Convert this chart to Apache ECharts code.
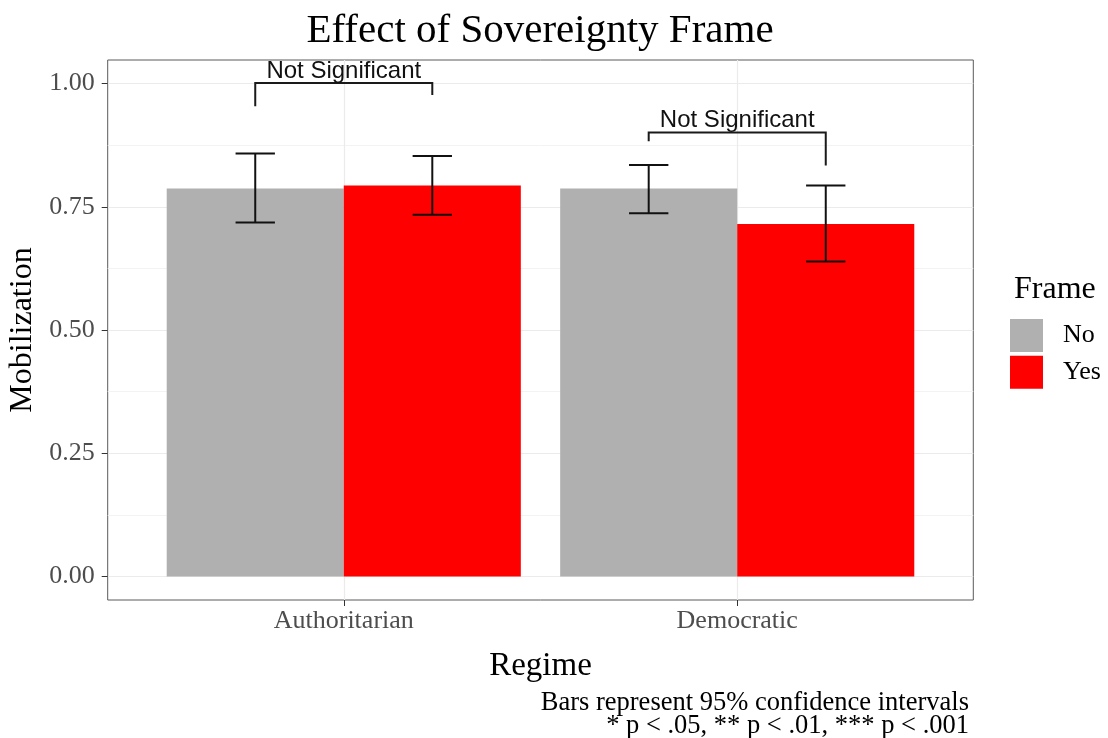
<!DOCTYPE html>
<html>
<head>
<meta charset="utf-8">
<title>Effect of Sovereignty Frame</title>
<script src="https://cdn.jsdelivr.net/npm/echarts@6/dist/echarts.min.js"></script>
<style>
  html, body { margin: 0; padding: 0; background: #ffffff; }
  #chart { width: 1108px; height: 738px; }
</style>
</head>
<body>
<div id="chart"></div>
<script>
// Regimes on the x axis, frame levels as dodged bars
const regimes = ['Authoritarian', 'Democratic'];
const frames = ['No', 'Yes'];

// Mean mobilization per regime, one array per frame level
const meanNo = [0.787, 0.787];
const meanYes = [0.793, 0.715];

// 95% confidence interval bounds
const lowerNo = [0.718, 0.737];
const upperNo = [0.858, 0.835];
const lowerYes = [0.734, 0.639];
const upperYes = [0.853, 0.793];

// Significance brackets: height of the bar, and the two dropped ends
const bracketTop = [1.001, 0.901];
const bracketLeftEnd = [0.954, 0.883];
const bracketRightEnd = [0.977, 0.834];
const bracketLabels = ['Not Significant', 'Not Significant'];

// Y tick values
const yTicks = [0, 0.25, 0.5, 0.75, 1.0];

// Caption lines under the plot
const captionLines = [
  'Bars represent 95% confidence intervals',
  '* p < .05, ** p < .01, *** p < .001'
];

const SERIF = '"Liberation Serif", "Times New Roman", Times, serif';
const SANS = '"Liberation Sans", Arial, Helvetica, sans-serif';
const colors = { No: '#b0b0b0', Yes: '#ff0000' };

// Panel geometry (discrete x range 0.4 .. 2.6 as in a dodged bar layout)
const panel = { left: 107.7, top: 60, width: 865.6, height: 540 };
const unit = panel.width / 2.2;
const yZero = 576.4, yOne = 83.6;

const dodge = 0.225;   // half of a bar's width in category units
const capHalf = 0.05;  // half width of an error bar cap

function barRender(offset) {
  return function (params, api) {
    const x = api.value(0) + offset;
    const v = api.value(1);
    const p0 = api.coord([x - dodge, v]);
    const p1 = api.coord([x + dodge, 0]);
    return {
      type: 'rect',
      shape: { x: p0[0], y: p0[1], width: p1[0] - p0[0], height: p1[1] - p0[1] },
      style: api.style()
    };
  };
}

function errRender(params, api) {
  const x = api.value(0) + api.value(3);
  const lo = api.value(1), hi = api.value(2);
  const top = api.coord([x, hi]);
  const bot = api.coord([x, lo]);
  const l = api.coord([x - capHalf, hi])[0];
  const r = api.coord([x + capHalf, hi])[0];
  const st = { stroke: '#111111', lineWidth: 2 };
  return {
    type: 'group',
    children: [
      { type: 'line', shape: { x1: top[0], y1: top[1], x2: bot[0], y2: bot[1] }, style: st },
      { type: 'line', shape: { x1: l, y1: top[1], x2: r, y2: top[1] }, style: st },
      { type: 'line', shape: { x1: l, y1: bot[1], x2: r, y2: bot[1] }, style: st }
    ]
  };
}

function bracketRender(params, api) {
  const i = params.dataIndex;
  const xc = api.value(0);
  const a = api.coord([xc - dodge, api.value(2)]);
  const b = api.coord([xc + dodge, api.value(1)]);
  const c = api.coord([xc + dodge, api.value(3)]);
  const aTop = api.coord([xc - dodge, api.value(1)]);
  const st = { stroke: '#1a1a1a', lineWidth: 2, fill: null };
  return {
    type: 'group',
    children: [
      { type: 'polyline', shape: { points: [a, aTop, b, c] }, style: st },
      {
        type: 'text',
        style: {
          text: bracketLabels[i],
          x: (aTop[0] + b[0]) / 2,
          y: aTop[1],
          align: 'center',
          verticalAlign: 'bottom',
          fontSize: 24,
          fontFamily: SANS,
          fill: '#111111'
        }
      }
    ]
  };
}

const chart = echarts.init(document.getElementById('chart'), null, { renderer: 'canvas' });

const option = {
  backgroundColor: '#ffffff',
  animation: false,
  title: [
    {
      text: 'Effect of Sovereignty Frame',
      left: panel.left + panel.width / 2 - 5.5,
      textAlign: 'center',
      top: 6,
      textStyle: { fontFamily: SERIF, fontSize: 41, fontWeight: 'normal', color: '#000000' }
    },
    {
      text: 'Frame',
      left: 1009,
      top: 269,
      textStyle: { fontFamily: SERIF, fontSize: 32, fontWeight: 'normal', color: '#000000' }
    }
  ],
  legend: {
    data: frames,
    orient: 'vertical',
    left: 1010,
    top: 319,
    padding: 0,
    icon: 'rect',
    itemWidth: 33,
    itemHeight: 33,
    itemGap: 3.7,
    selectedMode: false,
    textStyle: { fontFamily: SERIF, fontSize: 26, color: '#000000', padding: [0, 0, 0, 15] }
  },
  grid: [
    // data area: 0 .. 1 on y
    { left: panel.left, top: yOne, width: panel.width, height: yZero - yOne,
      outerBoundsMode: 'none' },
    // panel frame
    { left: panel.left, top: panel.top, width: panel.width, height: panel.height,
      outerBoundsMode: 'none',
      show: true, borderColor: '#5a5a5a', borderWidth: 1, backgroundColor: 'transparent' },
    // discrete x axis: spans from the first to the second category
    { left: panel.left + 0.6 * unit, top: panel.top, width: unit, height: panel.height,
      outerBoundsMode: 'none' }
  ],
  xAxis: [
    { gridIndex: 0, type: 'value', min: 0.4, max: 2.6, show: false },
    { gridIndex: 1, type: 'value', min: 0, max: 1, show: false },
    {
      gridIndex: 2,
      type: 'category',
      data: regimes,
      boundaryGap: false,
      axisLine: { show: false },
      axisTick: { show: true, length: 6, lineStyle: { color: '#333333', width: 1 } },
      axisLabel: { margin: 8, fontFamily: SERIF, fontSize: 26, color: '#4d4d4d' },
      splitLine: { show: true, lineStyle: { color: '#ebebeb', width: 1.2 } },
      name: 'Regime',
      nameLocation: 'middle',
      nameGap: 50,
      nameTextStyle: { fontFamily: SERIF, fontSize: 33, color: '#000000' }
    }
  ],
  yAxis: [
    {
      gridIndex: 0,
      type: 'value',
      min: yTicks[0],
      max: yTicks[yTicks.length - 1],
      interval: 0.25,
      axisLine: { show: false },
      axisTick: { show: true, length: 6, lineStyle: { color: '#333333', width: 1 } },
      axisLabel: {
        margin: 13,
        fontFamily: SERIF,
        fontSize: 26,
        color: '#4d4d4d',
        formatter: function (v) { return v.toFixed(2); }
      },
      splitLine: { show: true, lineStyle: { color: '#ebebeb', width: 1.2 } },
      minorTick: { show: false, splitNumber: 2 },
      minorSplitLine: { show: true, lineStyle: { color: '#f3f3f3', width: 1 } },
      name: 'Mobilization',
      nameLocation: 'middle',
      nameRotate: 90,
      nameGap: 62,
      nameTextStyle: { fontFamily: SERIF, fontSize: 32, color: '#000000' }
    },
    { gridIndex: 1, type: 'value', min: 0, max: 1, show: false },
    { gridIndex: 2, type: 'value', min: 0, max: 1, show: false }
  ],
  series: [
    {
      name: 'No',
      type: 'custom',
      xAxisIndex: 0, yAxisIndex: 0,
      itemStyle: { color: colors.No },
      renderItem: barRender(-dodge),
      data: meanNo.map(function (v, i) { return [i + 1, v]; }),
      z: 2
    },
    {
      name: 'Yes',
      type: 'custom',
      xAxisIndex: 0, yAxisIndex: 0,
      itemStyle: { color: colors.Yes },
      renderItem: barRender(dodge),
      data: meanYes.map(function (v, i) { return [i + 1, v]; }),
      z: 2
    },
    {
      name: 'CI',
      type: 'custom',
      xAxisIndex: 0, yAxisIndex: 0,
      renderItem: errRender,
      encode: { x: 0, y: [1, 2] },
      data: regimes.map(function (r, i) { return [i + 1, lowerNo[i], upperNo[i], -dodge]; })
        .concat(regimes.map(function (r, i) { return [i + 1, lowerYes[i], upperYes[i], dodge]; })),
      z: 3
    },
    {
      name: 'Significance',
      type: 'custom',
      xAxisIndex: 0, yAxisIndex: 0,
      renderItem: bracketRender,
      encode: { x: 0, y: [1, 2, 3] },
      data: regimes.map(function (r, i) {
        return [i + 1, bracketTop[i], bracketLeftEnd[i], bracketRightEnd[i]];
      }),
      z: 3
    }
  ],
  graphic: captionLines.map(function (line, i) {
    return {
      type: 'text',
      right: 139,
      top: 690 + i * 22.7,
      style: { text: line, fontFamily: SERIF, fontSize: 26.5, fill: '#000000' }
    };
  })
};

chart.setOption(option);
</script>
</body>
</html>
